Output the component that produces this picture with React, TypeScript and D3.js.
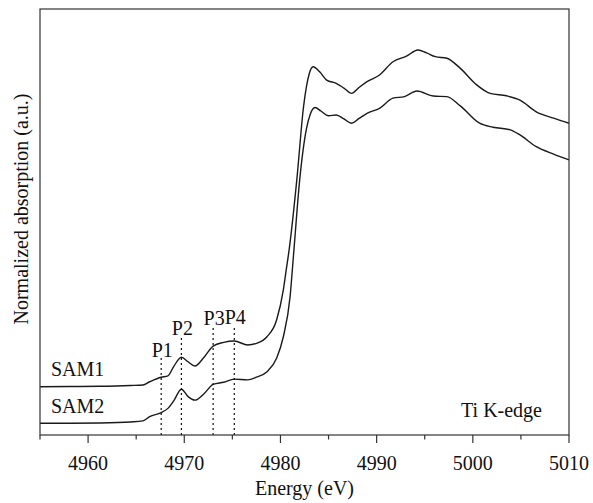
import { scaleLinear, line, curveMonotoneX, range } from 'd3'

// energies (eV) and normalized absorption
const sam1Energy = [
  4955, 4958.1, 4961.2, 4964.4, 4965.7, 4966.4, 4967.6, 4968.3, 4968.9, 4969.7,
  4970.4, 4971.1, 4972.1, 4973.0, 4974.1, 4975.2, 4976.6, 4977.5, 4978.6,
  4979.6, 4980.3, 4980.6, 4980.9, 4981.7, 4982.4, 4983.0, 4983.4, 4984.1,
  4984.8, 4985.8, 4986.6, 4987.4, 4988.1, 4989.0, 4990.3, 4991.7, 4993.1,
  4994.3, 4995.2, 4996.1, 4997.3, 4998.7, 5000.4, 5001.8, 5003.5, 5004.9,
  5006.6, 5008.4, 5010,
]
const sam1Absorb = [
  0.181, 0.182, 0.183, 0.186, 0.188, 0.2, 0.217, 0.222, 0.257, 0.292,
  0.275, 0.259, 0.294, 0.334, 0.348, 0.353, 0.338, 0.344, 0.369,
  0.432, 0.545, 0.62, 0.695, 0.958, 1.233, 1.358, 1.383, 1.363,
  1.333, 1.321, 1.303, 1.283, 1.303, 1.327, 1.352, 1.402, 1.423,
  1.446, 1.435, 1.421, 1.415, 1.377, 1.315, 1.283, 1.274, 1.258,
  1.214, 1.19, 1.171,
]

const sam2Energy = [
  4955, 4958.1, 4961.2, 4964.4, 4965.7, 4966.4, 4967.6, 4968.3, 4968.9, 4969.7,
  4970.4, 4971.1, 4972.1, 4973.0, 4974.1, 4975.2, 4976.6, 4977.5, 4978.6,
  4979.6, 4980.3, 4981.0, 4981.4, 4982.0, 4982.7, 4983.1, 4983.6, 4984.2,
  4985.0, 4985.8, 4986.6, 4987.4, 4988.1, 4989.0, 4990.3, 4991.7, 4992.9,
  4994.2, 4995.9, 4997.3, 4998.7, 5000.7, 5002.1, 5003.9, 5004.9, 5006.6,
  5008.4, 5010,
]
const sam2Absorb = [
  0.044, 0.044, 0.045, 0.049, 0.053, 0.069, 0.084, 0.1, 0.128, 0.172,
  0.144, 0.131, 0.157, 0.19, 0.198, 0.21, 0.207, 0.217, 0.238,
  0.288, 0.369, 0.519, 0.695, 0.958, 1.15, 1.205, 1.23, 1.217,
  1.199, 1.202, 1.187, 1.171, 1.187, 1.208, 1.227, 1.265, 1.271,
  1.292, 1.273, 1.271, 1.236, 1.171, 1.156, 1.146, 1.127, 1.083,
  1.055, 1.033,
]

const peakLabels = ['P1', 'P2', 'P3', 'P4']
const peakEnergy = [4967.6, 4969.7, 4973.0, 4975.2]
const peakTop = [0.289, 0.369, 0.407, 0.413]

const seriesLabels = ['SAM1', 'SAM2']
const seriesLabelY = [0.22, 0.081]

const FONT = "'Liberation Serif', 'Times New Roman', Times, serif"

export default function App() {
  const width = 593
  const height = 503
  const margin = { top: 9, right: 24, bottom: 68, left: 40 }
  const innerWidth = width - margin.left - margin.right
  const innerHeight = height - margin.top - margin.bottom
  const fs = 20
  const txt = { fontFamily: FONT, fontSize: fs, fill: '#111' }

  const xScale = scaleLinear().domain([4955, 5010]).range([0, innerWidth])
  const yScale = scaleLinear().domain([0, 1.6]).range([innerHeight, 0])

  const majorTicks = xScale.ticks(6).filter((t) => t >= 4960)
  const minorTicks = range(4955, 5011, 5).filter((t) => t % 10 !== 0)

  const path = line<number>()
    .x((d) => xScale(d))
    .curve(curveMonotoneX)

  const series = [
    { e: sam1Energy, a: sam1Absorb },
    { e: sam2Energy, a: sam2Absorb },
  ]

  return (
    <div style={{ position: 'absolute', left: 0, top: 0 }}>
      <svg width={width} height={height} style={{ display: 'block', background: '#fff' }}>
        <g transform={`translate(${margin.left}, ${margin.top})`}>
          {/* curves */}
          {series.map((s, i) => (
            <path
              key={i}
              d={path.y((_, j) => yScale(s.a[j]))(s.e) ?? ''}
              fill='none'
              stroke='#1a1a1a'
              strokeWidth={1.4}
            />
          ))}

          {/* peak markers */}
          {peakLabels.map((p, i) => (
            <g key={p}>
              <line
                x1={xScale(peakEnergy[i])}
                x2={xScale(peakEnergy[i])}
                y1={innerHeight}
                y2={yScale(peakTop[i])}
                stroke='#111'
                strokeWidth={1.2}
                strokeDasharray='2,3'
              />
              <text
                x={xScale(peakEnergy[i]) + 1}
                y={yScale(peakTop[i]) - 1.5}
                textAnchor='middle'
                style={txt}
              >
                {p}
              </text>
            </g>
          ))}

          {seriesLabels.map((s, i) => (
            <text key={s} x={11} y={yScale(seriesLabelY[i])} style={txt}>
              {s}
            </text>
          ))}

          <text x={502} y={innerHeight - 18} textAnchor='end' style={txt}>
            Ti K-edge
          </text>

          {/* frame */}
          <rect x={0} y={0} width={innerWidth} height={innerHeight} fill='none' stroke='#333' strokeWidth={1.2} />

          {/* x axis ticks */}
          {majorTicks.map((t) => (
            <g key={t} transform={`translate(${xScale(t)}, ${innerHeight})`}>
              <line y2={8} stroke='#333' strokeWidth={1.2} />
              <text y={35} textAnchor='middle' style={txt}>
                {t}
              </text>
            </g>
          ))}
          {minorTicks.map((t) => (
            <line
              key={t}
              x1={xScale(t)}
              x2={xScale(t)}
              y1={innerHeight}
              y2={innerHeight + 4.5}
              stroke='#333'
              strokeWidth={1.2}
            />
          ))}

          <text x={innerWidth / 2} y={innerHeight + 60} textAnchor='middle' style={txt}>
            Energy (eV)
          </text>
          <text
            transform={`translate(${-12}, ${200}) rotate(-90)`}
            textAnchor='middle'
            style={txt}
          >
            Normalized absorption (a.u.)
          </text>
        </g>
      </svg>
    </div>
  )
}
